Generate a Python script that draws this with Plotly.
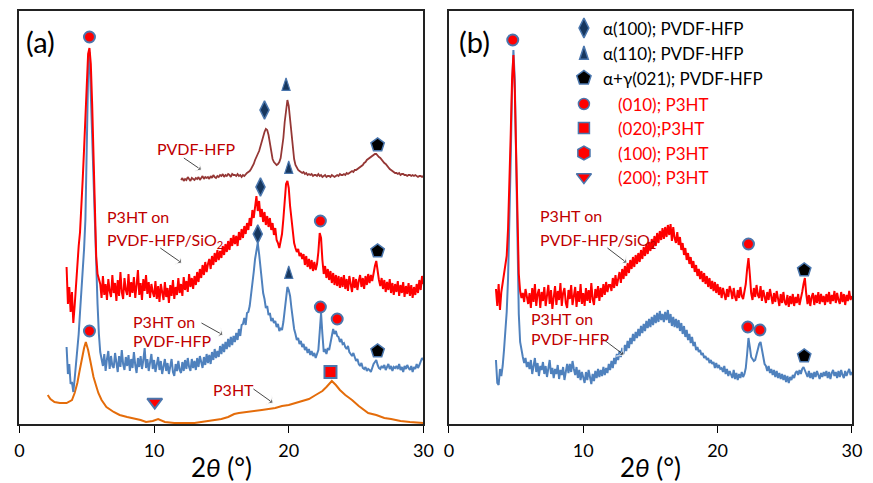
import numpy as np
import plotly.graph_objects as go

# ---------------- data (intensity in arbitrary units, curves offset vertically) ----------------
STEP = 0.1

# (a) P3HT on PVDF-HFP/SiO2, 2theta = 3.5 ... 30.0
A_SIO2_START = 3.5
A_SIO2 = [
    157, 120, 137, 112, 132,
    101, 118, 142, 160, 178, 192, 215, 245, 275, 310,
    345, 370, 376, 360, 320, 270, 215, 168, 150, 144,
    140, 126, 148, 129, 140, 124, 145, 133, 127, 149,
    131, 141, 123, 144, 128, 152, 132, 125, 146, 134,
    129, 150, 127, 142, 131, 147, 126, 139, 154, 129,
    141, 124, 145, 133, 149, 130, 142, 126, 140, 132,
    127, 143, 125, 138, 122, 140, 129, 124, 142, 127,
    136, 121, 139, 128, 144, 125, 137, 129, 146, 131,
    140, 128, 147, 134, 143, 132, 150, 137, 146, 135,
    148, 139, 152, 142, 155, 146, 159, 149, 162, 152,
    160, 165, 155, 168, 159, 171, 162, 174, 164, 173,
    166, 178, 169, 180, 172, 183, 174, 186, 178, 189,
    180, 188, 178, 192, 184, 195, 186, 198, 190, 201,
    194, 206, 198, 214, 206, 221, 228, 213, 223, 207,
    215, 202, 212, 199, 208, 197, 206, 194, 201, 189,
    196, 184, 181, 176, 185, 190, 205, 225, 240, 243,
    236, 218, 203, 190, 181, 176, 172, 175, 168, 171,
    165, 170, 159, 168, 157, 165, 155, 164, 153, 162,
    154, 160, 172, 191, 186, 164, 150, 158, 146, 155,
    144, 153, 141, 151, 139, 149, 138, 148, 136, 147,
    137, 149, 135, 145, 133, 148, 138, 132, 147, 136,
    145, 134, 143, 149, 137, 146, 135, 148, 139, 150,
    141, 149, 143, 152, 158, 163, 152, 144, 138, 146,
    135, 144, 132, 142, 134, 145, 131, 141, 129, 140,
    132, 143, 128, 139, 131, 142, 127, 138, 130, 141,
    128, 139, 126, 137, 129, 140, 131, 144, 134, 148,
    140,
]

# (a) P3HT on PVDF-HFP, 2theta = 3.5 ... 30.0
A_PVDF_START = 3.5
A_PVDF = [
    77, 50, 60, 40, 42,
    32, 45, 60, 72, 90, 112, 130, 150, 175, 205,
    280, 350, 372, 330, 275, 235, 205, 165, 120, 90,
    72, 65, 58, 70, 53, 65, 73, 55, 68, 58,
    56, 71, 59, 52, 68, 57, 74, 60, 54, 67,
    58, 69, 53, 65, 56, 72, 59, 51, 66, 57,
    68, 55, 64, 76, 56, 65, 53, 63, 70, 55,
    64, 52, 62, 67, 54, 63, 50, 60, 65, 53,
    61, 50, 59, 65, 52, 48, 60, 53, 63, 54,
    51, 62, 53, 64, 55, 66, 57, 53, 65, 56,
    63, 54, 66, 57, 68, 60, 56, 67, 59, 70,
    61, 69, 60, 72, 64, 75, 66, 73, 67, 78,
    70, 80, 72, 82, 75, 85, 77, 87, 79, 88,
    82, 91, 84, 95, 88, 99, 100, 106, 99, 111,
    112, 118, 128, 140, 152, 165, 175, 181, 170, 158,
    142, 131, 125, 116, 118, 109, 111, 103, 106, 101,
    103, 97, 100, 93, 96, 94, 102, 115, 130, 137,
    134, 128, 116, 103, 95, 90, 84, 86, 80, 83,
    77, 80, 74, 77, 71, 75, 69, 73, 68, 71,
    66, 70, 74, 92, 111, 90, 72, 75, 70, 76,
    74, 81, 87, 95, 90, 93, 88, 87, 82, 85,
    80, 81, 77, 75, 78, 72, 70, 68, 71, 67,
    63, 65, 60, 58, 61, 56, 55, 57, 53, 55,
    54, 52, 57, 60, 62, 64, 59, 56, 55, 58,
    56, 59, 54, 57, 60, 55, 58, 53, 57, 56,
    58, 55, 60, 54, 57, 52, 58, 55, 59, 56,
    54, 58, 52, 57, 55, 60, 56, 59, 63, 66,
    64,
]

# (a) neat PVDF-HFP film, 2theta = 12.0 ... 30.0
A_FILM_START = 12.0
A_FILM = [
    244, 246, 243, 245, 244, 247, 245, 243, 246, 245,
    244, 246, 245, 247, 244, 246, 248, 245, 247, 246,
    247, 245, 248, 246, 249, 247, 246, 248, 247, 249,
    248, 250, 247, 249, 248, 250, 249, 247, 250, 249,
    249, 248, 250, 248, 249, 247, 249, 248, 250, 251,
    252, 253, 255, 257, 260, 264, 268, 270, 273, 278,
    283, 288, 292, 295, 294, 289, 280, 271, 265, 262,
    260, 259, 260, 262, 266, 274, 286, 302, 317, 324,
    318, 304, 288, 275, 265, 259, 256, 254, 253, 252,
    251, 252, 250, 251, 249, 250, 249, 250, 248, 249,
    249, 248, 250, 248, 249, 247, 248, 249, 247, 248,
    248, 247, 249, 248, 247, 248, 249, 248, 250, 249,
    249, 250, 249, 251, 250, 251, 252, 253, 252, 254,
    254, 255, 256, 257, 258, 259, 261, 262, 264, 265,
    266, 267, 268, 269, 270, 270, 268, 267, 266, 264,
    263, 261, 260, 258, 257, 255, 254, 253, 252, 251,
    251, 250, 251, 249, 250, 250, 249, 249, 248, 249,
    249, 248, 249, 248, 249, 248, 247, 248, 248, 247,
    248,
]

# (a) neat P3HT film (smooth trace)
A_P3HT_X = [2.1, 2.3, 2.6, 3.0, 3.5, 3.9, 4.1, 4.3, 4.45, 4.6, 4.8, 4.93, 5.1, 5.25,
            5.4, 5.5, 5.7, 5.86, 6.1, 6.46, 7.0, 7.44, 8.0, 8.4, 9.0, 9.4, 9.9, 10.3,
            10.6, 10.8, 11.5, 12.0, 12.5, 13.0, 13.5, 14.0, 14.5, 15.0, 15.5, 15.95,
            16.3, 17.0, 17.5, 18.0, 18.5, 19.0, 19.5, 20.0, 20.5, 21.0, 21.5, 22.0,
            22.5, 22.8, 23.0, 23.2, 23.5, 23.8, 24.2, 24.7, 25.2, 25.9, 26.5, 27.1,
            27.6, 28.3, 29.0, 29.6, 30.0]
A_P3HT_Y = [29, 25, 22, 21, 21, 24, 31, 41, 52, 64, 76, 82, 74, 64,
            54, 47, 38, 31, 24, 17, 12, 9, 7, 6, 4, 2, 3, 5,
            3, 2, 1, 1, 1, 1, 2, 3, 4, 5, 7, 10,
            11, 12, 13, 14, 15, 16, 18, 19, 21, 23, 25, 29,
            33, 37, 40, 43, 39, 34, 29, 24, 18, 11, 9, 6,
            5, 3, 2, 1, 1]

# (b) P3HT on PVDF-HFP/SiO2, 2theta = 3.5 ... 30.0
B_SIO2_START = 3.5
B_SIO2 = [
    135, 118, 140, 114, 132,
    141, 148, 155, 168, 195, 235, 290, 345, 369, 335,
    270, 195, 150, 133, 126, 131, 122, 135, 127, 120,
    131, 116, 136, 122, 140, 118, 130, 135, 116, 132,
    123, 137, 118, 131, 139, 120, 134, 115, 129, 138,
    119, 133, 124, 141, 118, 131, 136, 121, 116, 134,
    125, 139, 119, 130, 137, 117, 133, 122, 140, 120,
    131, 118, 136, 123, 134, 121, 141, 125, 119, 135,
    126, 138, 123, 136, 127, 140, 129, 142, 132, 139,
    139, 133, 146, 136, 149, 138, 147, 152, 141, 155,
    145, 158, 148, 161, 151, 164, 155, 167, 157, 169,
    160, 171, 162, 174, 165, 177, 168, 180, 170, 182,
    173, 185, 176, 188, 178, 191, 181, 193, 184, 196,
    185, 197, 187, 199, 189, 200, 183, 197, 186, 181,
    192, 179, 187, 174, 181, 169, 176, 164, 171, 160,
    167, 156, 163, 152, 159, 148, 155, 145, 153, 142,
    151, 140, 148, 137, 146, 135, 143, 133, 142, 131,
    140, 129, 137, 126, 136, 128, 124, 135, 127, 138,
    133, 125, 136, 127, 123, 134, 126, 137, 128, 125,
    133, 140, 155, 166, 150, 131, 124, 136, 127, 139,
    129, 126, 138, 123, 134, 127, 121, 132, 124, 135,
    125, 120, 131, 122, 133, 123, 118, 130, 121, 132,
    122, 119, 129, 117, 128, 120, 130, 118, 127, 121,
    130, 119, 128, 132, 140, 146, 130, 120, 129, 118,
    127, 131, 119, 129, 121, 132, 120, 130, 122, 128,
    119, 130, 122, 132, 120, 129, 123, 133, 121, 131,
    124, 120, 132, 122, 130, 119, 129, 123, 133, 124,
    128,
]

# (b) P3HT on PVDF-HFP, 2theta = 3.5 ... 30.0
B_PVDF_START = 3.5
B_PVDF = [
    64, 41, 39, 55, 48,
    58, 74, 90, 112, 145, 195, 265, 335, 374, 345,
    270, 180, 110, 82, 72, 67, 61, 66, 57, 62,
    55, 64, 50, 60, 66, 52, 61, 48, 58, 54,
    62, 50, 58, 47, 57, 64, 50, 56, 46, 55,
    50, 59, 45, 54, 49, 57, 44, 53, 60, 51,
    60, 52, 63, 55, 49, 57, 46, 54, 44, 52,
    47, 41, 52, 44, 54, 45, 40, 50, 43, 53,
    46, 55, 47, 54, 48, 57, 49, 56, 51, 60,
    54, 63, 56, 66, 60, 70, 64, 73, 67, 76,
    70, 79, 73, 83, 76, 86, 80, 90, 83, 92,
    86, 95, 88, 98, 91, 100, 93, 103, 96, 105,
    97, 107, 99, 109, 101, 111, 102, 113, 104, 110,
    102, 112, 104, 114, 101, 110, 98, 107, 97, 105,
    96, 104, 93, 101, 90, 98, 87, 94, 84, 90,
    81, 87, 78, 82, 74, 77, 72, 74, 69, 71,
    66, 68, 64, 66, 61, 64, 60, 62, 56, 61,
    56, 59, 55, 56, 52, 58, 50, 55, 48, 53,
    50, 46, 54, 45, 51, 44, 50, 46, 52, 47,
    50, 56, 70, 86, 77, 67, 65, 63, 64, 70,
    76, 80, 82, 74, 66, 60, 58, 53, 58, 51,
    55, 49, 54, 47, 53, 46, 51, 45, 50, 44,
    49, 42, 48, 41, 47, 44, 49, 46, 51, 53,
    49, 54, 50, 55, 57, 53, 50, 47, 53, 46,
    51, 45, 52, 47, 53, 48, 45, 51, 47, 52,
    48, 53, 46, 52, 45, 51, 54, 48, 52, 46,
    53, 47, 54, 49, 46, 53, 48, 52, 55, 49,
    52,
]

# Reflection markers: (2theta, intensity) per panel
A_ALPHA100 = ([18.2, 17.9, 17.7], [314, 237, 190])
A_ALPHA110 = ([19.8, 20.0, 20.0], [346, 263, 158])   # apex of the triangle
A_ALPHA021 = ([26.6, 26.6, 26.6], [279, 173, 73])
A_P3HT010 = ([5.2, 22.35, 22.35, 23.6, 5.2], [387, 203, 117, 105, 93])
A_P3HT020 = ([23.1], [52])
A_P3HT200 = ([10.05], [22])

B_ALPHA021 = ([26.45, 26.45], [154, 68])
B_P3HT010 = ([4.75, 22.3, 22.25, 23.15], [384, 180, 97, 94])

LEGEND_LABELS = ["α(100); PVDF-HFP", "α(110); PVDF-HFP", "α+γ(021); PVDF-HFP",
                 "(010); P3HT", "(020);P3HT", "(100); P3HT", "(200); P3HT"]
LEGEND_Y = [396, 371, 346, 320, 296, 271, 247]

X_TICKS = [0, 10, 20, 30]

# ---------------- styles ----------------
RED = "#ff0000"
BLUE = "#4f81bd"
BROWN = "#953735"
ORANGE = "#e46c0a"
LABEL_RED = "#c00000"
NAVY = "#17375e"
EDGE = "#4a76ad"
FONT = "Lato, 'Open Sans', sans-serif"


def grid(start, values):
    return np.round(start + STEP * np.arange(len(values)), 2)


fig = go.Figure()


def line(x, y, color, ax, width=2.0):
    fig.add_trace(go.Scatter(x=x, y=y, mode="lines", xaxis=ax[0], yaxis=ax[1],
                             line=dict(color=color, width=width), hoverinfo="skip"))


def marks(pts, ax, symbol, size, fill, edge=EDGE, ew=1.5):
    fig.add_trace(go.Scatter(x=pts[0], y=pts[1], mode="markers", xaxis=ax[0], yaxis=ax[1],
                             marker=dict(symbol=symbol, size=size, color=fill,
                                         line=dict(color=edge, width=ew)),
                             hoverinfo="skip"))


def pointer(tail, head, ax):
    # thin leader line from a curve label to its trace, with a small arrowhead
    fig.add_trace(go.Scatter(x=[tail[0], head[0]], y=[tail[1], head[1]], mode="lines+markers",
                             xaxis=ax[0], yaxis=ax[1],
                             line=dict(color="#333333", width=0.9),
                             marker=dict(symbol="arrow-wide", size=[0, 8], angleref="previous",
                                         color="#333333"),
                             hoverinfo="skip"))


AX_A = ("x", "y")
AX_B = ("x2", "y2")

# panel (a)
line(A_P3HT_X, A_P3HT_Y, ORANGE, AX_A)
line(grid(A_PVDF_START, A_PVDF), A_PVDF, BLUE, AX_A)
line(grid(A_SIO2_START, A_SIO2), A_SIO2, RED, AX_A)
line(grid(A_FILM_START, A_FILM), A_FILM, BROWN, AX_A, 1.8)

marks(A_ALPHA100, AX_A, "diamond-tall", 13, NAVY)
marks(A_ALPHA110, AX_A, "arrow", 13, NAVY, ew=1.2)
marks(A_ALPHA021, AX_A, "pentagon", 14, "#000000")
marks(A_P3HT010, AX_A, "circle", 11, RED, ew=2)
marks(A_P3HT020, AX_A, "square", 12, RED, ew=2)
marks(A_P3HT200, AX_A, "triangle-down", 13, RED, ew=2)

# panel (b)
line(grid(B_PVDF_START, B_PVDF), B_PVDF, BLUE, AX_B)
line(grid(B_SIO2_START, B_SIO2), B_SIO2, RED, AX_B)
marks(B_ALPHA021, AX_B, "pentagon", 14, "#000000")
marks(B_P3HT010, AX_B, "circle", 11, RED, ew=2)

# key of reflection symbols in panel (b)
KEY_X = 10.05
key_styles = [("diamond-tall", 14, NAVY, 0), ("arrow", 14, NAVY, 7),
              ("pentagon", 15, "#000000", 0), ("circle", 11, RED, 0), ("square", 11, RED, 0),
              ("hexagon", 14, RED, 0), ("triangle-down", 13, RED, 0)]
for (sym, size, fill, lift), yk in zip(key_styles, LEGEND_Y):
    marks(([KEY_X], [yk + lift]), AX_B, sym, size, fill, ew=1.5)

annotations = []
for i, (txt, yk) in enumerate(zip(LEGEND_LABELS, LEGEND_Y)):
    annotations.append(dict(x=11.35 if i < 3 else 12.45, y=yk, xref="x2", yref="y2",
                            text=txt, showarrow=False, xanchor="left", yanchor="middle",
                            font=dict(size=17, color="#000000" if i < 3 else RED, family=FONT)))


def label(txt, x, y, ax):
    annotations.append(dict(x=x, y=y, xref=ax[0], yref=ax[1], text=txt, showarrow=False,
                            xanchor="left", yanchor="middle",
                            font=dict(size=16, color=LABEL_RED, family=FONT)))


# curve labels, panel (a)
label("PVDF-HFP", 10.05, 276, AX_A)
pointer((12.21, 266), (13.52, 254), AX_A)
label("P3HT on", 6.37, 208, AX_A)
label("PVDF-HFP/SiO<sub>2</sub>", 6.37, 184, AX_A)
pointer((10.46, 176), (12.06, 161), AX_A)
label("P3HT on", 8.26, 103, AX_A)
label("PVDF-HFP", 8.26, 84, AX_A)
pointer((13.52, 101), (15.12, 89), AX_A)
label("P3HT", 14.25, 35, AX_A)
pointer((17.38, 35), (18.84, 21), AX_A)

# curve labels, panel (b)
label("P3HT on", 6.61, 209, AX_B)
label("PVDF-HFP/SiO<sub>2</sub>", 6.61, 184, AX_B)
pointer((11.80, 176), (13.26, 161), AX_B)
label("P3HT on", 5.95, 106, AX_B)
label("PVDF-HFP", 5.95, 86, AX_B)
pointer((11.36, 86), (13.04, 69), AX_B)

# panel tags
annotations.append(dict(x=19 / 873, y=1 - 41 / 483, xref="paper", yref="paper", text="(a)",
                        showarrow=False, xanchor="left", yanchor="middle",
                        font=dict(size=29, color="#000000", family=FONT)))
annotations.append(dict(x=460 / 873, y=1 - 41 / 483, xref="paper", yref="paper", text="(b)",
                        showarrow=False, xanchor="left", yanchor="middle",
                        font=dict(size=29, color="#000000", family=FONT)))

x_common = dict(range=[0, 30], tickvals=X_TICKS, ticks="outside", ticklen=7, tickwidth=1.3,
                tickcolor="#000000", showline=True, linecolor="#222222", linewidth=1.5,
                mirror=True, showgrid=False, zeroline=False, ticklabelstandoff=3,
                tickfont=dict(size=18, color="#000000", family=FONT),
                title=dict(text="2<i>θ</i> (°)", standoff=0,
                           font=dict(size=26, color="#000000", family=FONT)))
y_common = dict(range=[0, 413], showticklabels=False, ticks="", showline=True,
                linecolor="#222222", linewidth=1.5, mirror=True, showgrid=False,
                zeroline=False, domain=[59 / 483, 472 / 483])

fig.update_layout(
    width=873, height=483, margin=dict(l=0, r=0, t=0, b=0),
    paper_bgcolor="white", plot_bgcolor="white", showlegend=False,
    xaxis=dict(domain=[14.7 / 873, 425.7 / 873], anchor="y", **x_common),
    yaxis=dict(anchor="x", **y_common),
    xaxis2=dict(domain=[451.7 / 873, 861.7 / 873], anchor="y2", **x_common),
    yaxis2=dict(anchor="x2", **y_common),
    annotations=annotations,
)

fig.write_html("out.html")
